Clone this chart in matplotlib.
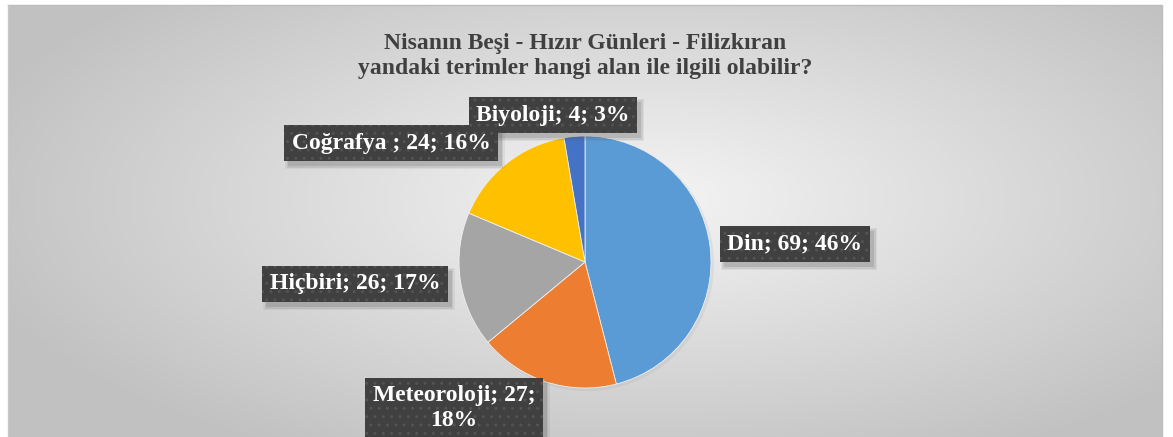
import numpy as np
import matplotlib
matplotlib.use("Agg")
import matplotlib.pyplot as plt
from matplotlib.patches import Rectangle

# data
categories = ["Din", "Meteoroloji", "Hiçbiri", "Coğrafya ", "Biyoloji"]
counts = [69, 27, 26, 24, 4]
percents = [46, 18, 17, 16, 3]
colors = ["#5B9BD5", "#ED7D31", "#A5A5A5", "#FFC000", "#4472C4"]
label_texts = ["Din; 69; 46%", "Meteoroloji; 27;\n18%", "Hiçbiri; 26; 17%",
               "Coğrafya ; 24; 16%", "Biyoloji; 4; 3%"]
# label centres in pixels (x from left, y from top)
label_pos = [(795, 244), (454, 408), (355, 284), (391, 143), (553, 115)]

title = "Nisanın Beşi - Hızır Günleri - Filizkıran\nyandaki terimler hangi alan ile ilgili olabilir?"

W, H = 1173, 437
fig = plt.figure(figsize=(W / 100, H / 100), dpi=100, facecolor="white")
ax = fig.add_axes([0, 0, 1, 1])

# radial gradient background of chart area
x0, x1, y0, y1 = 8, 1162, 0, 432
gx = np.linspace(-1, 1, 600)
gy = np.linspace(-1, 1, 250)
XX, YY = np.meshgrid(gx, gy)
rr = np.sqrt((XX - 0.1) ** 2 + ((YY + 0.1) * 0.9) ** 2)
rr = np.clip(rr / 1.2, 0, 1)
shade = 0.96 - 0.2 * rr
img = np.dstack([shade, shade, shade])
ax.imshow(img, extent=[x0, x1, y0, y1], origin="upper", aspect="auto", zorder=0)
ax.plot([x0, x1, x1], [y1, y1, y0], color="#bdbdbd", lw=1, zorder=1)
ax.plot([x0, x0], [y0, y1], color="#c8c8c8", lw=1, zorder=1)

cx, cy, R = 585, H - 262, 126
ax.add_patch(plt.Circle((cx + 2, cy - 2), R + 1, color="#9a9a9a", alpha=0.15, lw=0, zorder=2))
ax.pie(counts, colors=colors, startangle=90, counterclock=False,
       center=(cx, cy), radius=R, frame=True,
       wedgeprops=dict(edgecolor="#f0f0f0", linewidth=0.6, zorder=3))
ax.set_xlim(0, W)
ax.set_ylim(0, H)
ax.axis("off")

labels = []
for txt, (px, py) in zip(label_texts, label_pos):
    t = ax.text(px, H - py, txt, ha="center", va="center", fontsize=17,
                fontweight="bold", family="Liberation Serif", color="white",
                linespacing=1.2, zorder=5,
                bbox=dict(boxstyle="square,pad=0.32", facecolor="#404040",
                          edgecolor="#535353", hatch="..", linewidth=0))
    labels.append(t)

ax.text(585, H - 56, title, ha="center", va="center", fontsize=17,
        fontweight="bold", family="Liberation Serif", color="#404040",
        linespacing=1.2, zorder=5)

# soft drop shadows behind the label boxes
fig.canvas.draw()
for t in labels:
    bb = t.get_bbox_patch().get_window_extent()
    for k, a in [(0, 0.18), (1.5, 0.12), (3, 0.08)]:
        ax.add_patch(Rectangle((bb.x0 + 4 - k, bb.y0 - 5 - k), bb.width + 2 * k,
                               bb.height + 2 * k, facecolor="#555555", alpha=a,
                               lw=0, zorder=4))

fig.savefig("out.png", dpi=100, facecolor="white")
